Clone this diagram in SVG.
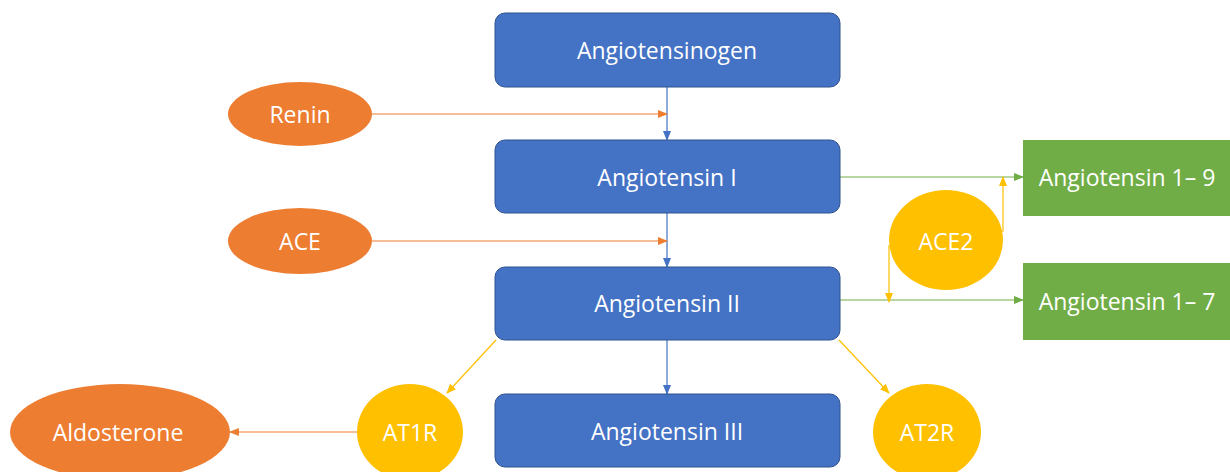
<svg xmlns="http://www.w3.org/2000/svg" width="1230" height="472" viewBox="0 0 1230 472">
<style>
.box{fill:#4472C4;stroke:#2F528F;stroke-width:1}
.gbox{fill:#70AD47}
.org{fill:#ED7D31}
.yel{fill:#FFC000}
text{font-family:"Open Sans","Liberation Sans",sans-serif;font-size:23px;fill:#fff;text-anchor:middle;dominant-baseline:central}
.c{fill:none;stroke-width:1.2}
</style>
<defs>
<marker id="ab" markerWidth="10" markerHeight="8" refX="9" refY="4" orient="auto" markerUnits="userSpaceOnUse"><path d="M0,0 L10,4 L0,8 z" fill="#4472C4"/></marker>
<marker id="ao" markerWidth="10" markerHeight="8" refX="9" refY="4" orient="auto" markerUnits="userSpaceOnUse"><path d="M0,0 L10,4 L0,8 z" fill="#ED7D31"/></marker>
<marker id="ag" markerWidth="10" markerHeight="8" refX="9" refY="4" orient="auto" markerUnits="userSpaceOnUse"><path d="M0,0 L10,4 L0,8 z" fill="#70AD47"/></marker>
<marker id="ay" markerWidth="10" markerHeight="8" refX="9" refY="4" orient="auto" markerUnits="userSpaceOnUse"><path d="M0,0 L10,4 L0,8 z" fill="#FFC000"/></marker>
</defs>
<g id="connectors">
<line class="c" x1="667" y1="87" x2="667" y2="140" stroke="#4472C4" marker-end="url(#ab)"/>
<line class="c" x1="667" y1="213" x2="667" y2="267" stroke="#4472C4" marker-end="url(#ab)"/>
<line class="c" x1="667" y1="340" x2="667" y2="394" stroke="#4472C4" marker-end="url(#ab)"/>
<line class="c" x1="372" y1="114" x2="667" y2="114" stroke="#ED7D31" marker-end="url(#ao)"/>
<line class="c" x1="372" y1="241" x2="667" y2="241" stroke="#ED7D31" marker-end="url(#ao)"/>
<line class="c" x1="357" y1="432" x2="230" y2="432" stroke="#ED7D31" marker-end="url(#ao)"/>
<line class="c" x1="840" y1="177" x2="1023" y2="177" stroke="#70AD47" marker-end="url(#ag)"/>
<line class="c" x1="840" y1="300" x2="1023" y2="300" stroke="#70AD47" marker-end="url(#ag)"/>
<line class="c" x1="1003" y1="232" x2="1003" y2="177" stroke="#FFC000" marker-end="url(#ay)"/>
<line class="c" x1="889" y1="245" x2="889" y2="302" stroke="#FFC000" marker-end="url(#ay)"/>
<line class="c" x1="496" y1="340" x2="447" y2="393" stroke="#FFC000" marker-end="url(#ay)"/>
<line class="c" x1="839" y1="340" x2="889" y2="393" stroke="#FFC000" marker-end="url(#ay)"/>
</g>
<g id="angiotensinogen"><rect class="box" x="495" y="13" width="345" height="74" rx="10"/><text x="667" y="50">Angiotensinogen</text></g>
<g id="angiotensin1"><rect class="box" x="495" y="140" width="345" height="73" rx="10"/><text x="667" y="177">Angiotensin I</text></g>
<g id="angiotensin2"><rect class="box" x="495" y="267" width="345" height="73" rx="10"/><text x="667" y="303">Angiotensin II</text></g>
<g id="angiotensin3"><rect class="box" x="495" y="394" width="345" height="73" rx="10"/><text x="667" y="431">Angiotensin III</text></g>
<g id="ang19"><rect class="gbox" x="1023" y="140" width="207" height="76"/><text x="1127" y="177">Angiotensin 1– 9</text></g>
<g id="ang17"><rect class="gbox" x="1023" y="263" width="207" height="77"/><text x="1127" y="301">Angiotensin 1– 7</text></g>
<g id="renin"><ellipse class="org" cx="300" cy="114" rx="72" ry="32"/><text x="300" y="114">Renin</text></g>
<g id="ace"><ellipse class="org" cx="300" cy="241" rx="72" ry="33"/><text x="300" y="241">ACE</text></g>
<g id="aldosterone"><ellipse class="org" cx="120" cy="432" rx="110" ry="48"/><text x="118" y="432">Aldosterone</text></g>
<g id="ace2"><ellipse class="yel" cx="946" cy="240" rx="57" ry="50"/><text x="946" y="241">ACE2</text></g>
<g id="at1r"><ellipse class="yel" cx="410" cy="432" rx="53" ry="48"/><text x="410" y="432">AT1R</text></g>
<g id="at2r"><ellipse class="yel" cx="927" cy="432" rx="54" ry="48"/><text x="927" y="432">AT2R</text></g>
</svg>
